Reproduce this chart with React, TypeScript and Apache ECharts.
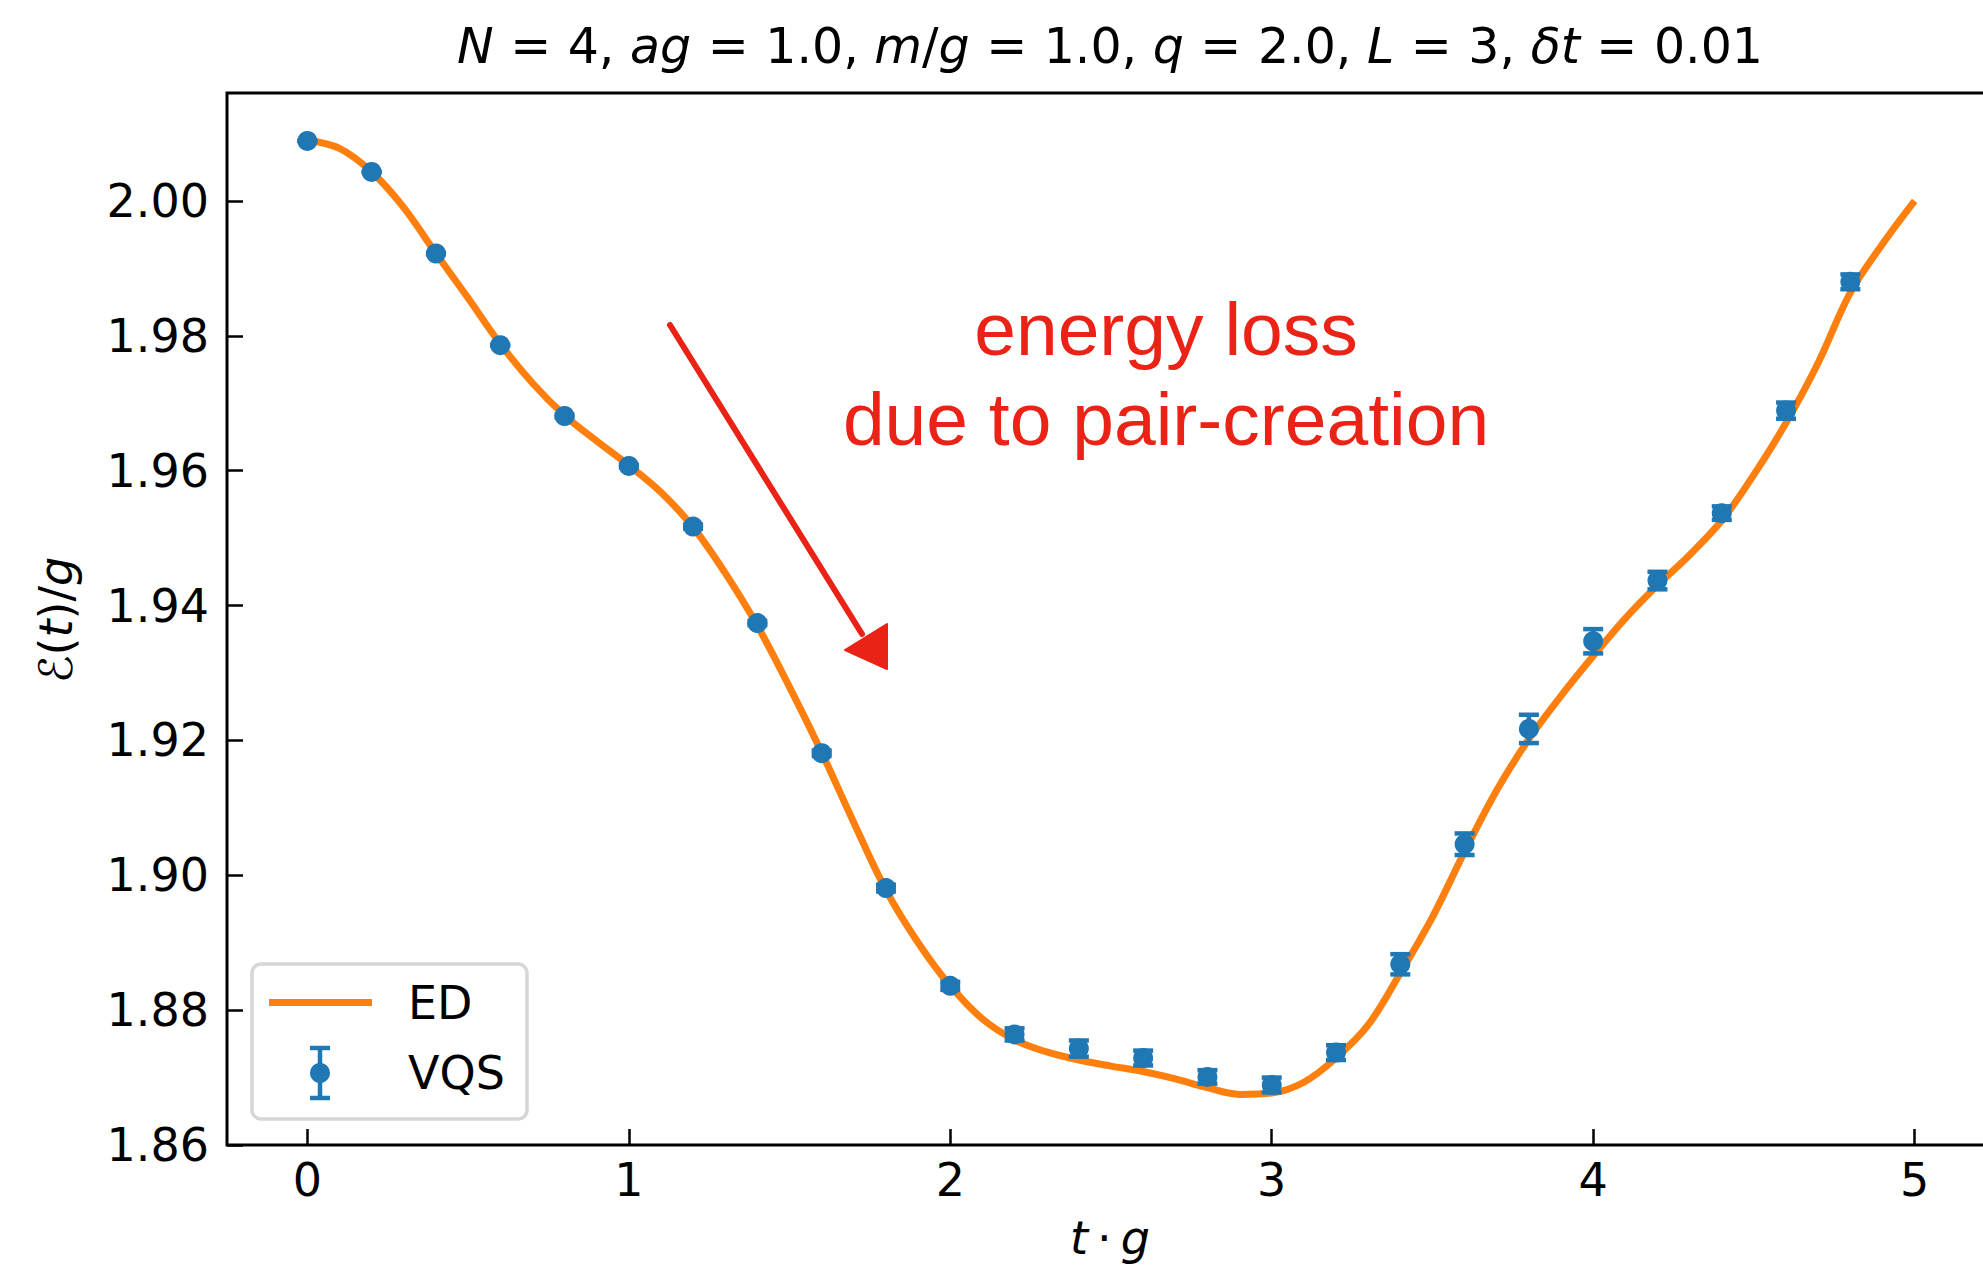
import React, { useEffect, useRef } from "react";
import * as echarts from "echarts";

// ---- Data ----
const edTimes = [
  0.0, 0.1, 0.2, 0.3, 0.4, 0.5, 0.6, 0.7, 0.8, 0.9,
  1.0, 1.1, 1.2, 1.3, 1.4, 1.5, 1.6, 1.7, 1.8, 1.9,
  2.0, 2.1, 2.2, 2.3, 2.4, 2.5, 2.6, 2.7, 2.8, 2.9,
  3.0, 3.1, 3.2, 3.3, 3.4, 3.5, 3.6, 3.7, 3.8, 3.9,
  4.0, 4.1, 4.2, 4.3, 4.4, 4.5, 4.6, 4.7, 4.8, 4.9, 5.0,
];
const edEnergy = [
  2.0090, 2.0078, 2.0043, 1.9990, 1.9922, 1.9856, 1.9788, 1.9730, 1.9682, 1.9644,
  1.9608, 1.9568, 1.9516, 1.9448, 1.9370, 1.9279, 1.9182, 1.9078, 1.8978, 1.8900,
  1.8836, 1.8787, 1.8756, 1.8738, 1.8726, 1.8717, 1.8709, 1.8698, 1.8685, 1.8675,
  1.8677, 1.8693, 1.8729, 1.8778, 1.8855, 1.8938, 1.9035, 1.9126, 1.9202, 1.9266,
  1.9325, 1.9381, 1.9430, 1.9475, 1.9526, 1.9594, 1.9671, 1.9760, 1.9864, 1.9936, 2.0000,
];

const vqsTimes = [
  0.0, 0.2, 0.4, 0.6, 0.8, 1.0, 1.2, 1.4, 1.6, 1.8, 2.0, 2.2, 2.4,
  2.6, 2.8, 3.0, 3.2, 3.4, 3.6, 3.8, 4.0, 4.2, 4.4, 4.6, 4.8,
];
const vqsEnergy = [
  2.0089, 2.0043, 1.9922, 1.9786, 1.9681, 1.9607, 1.9517, 1.9374, 1.9181, 1.8981, 1.8836, 1.8764, 1.8743,
  1.8729, 1.8701, 1.8689, 1.8737, 1.8868, 1.9046, 1.9217, 1.9347, 1.9437, 1.9537, 1.9689, 1.9880,
];
const vqsError = [
  0.0000, 0.0000, 0.0001, 0.0001, 0.0002, 0.0002, 0.0003, 0.0003, 0.0004, 0.0005, 0.0006, 0.0009, 0.0012,
  0.0011, 0.0010, 0.0011, 0.0011, 0.0015, 0.0016, 0.0021, 0.0018, 0.0013, 0.0010, 0.0012, 0.0011,
];

const xTicks = [0, 1, 2, 3, 4, 5];
const yTicks = [1.86, 1.88, 1.9, 1.92, 1.94, 1.96, 1.98, 2.0];

const seriesNames = ["ED", "VQS"];
const titleText =
  "{i|N}{w| }{n|=}{w| }{n|4, }{i|ag}{w| }{n|=}{w| }{n|1.0, }{i|m}{n|/}{i|g}{w| }{n|=}{w| }{n|1.0, }" +
  "{i|q}{w| }{n|=}{w| }{n|2.0, }{i|L}{w| }{n|=}{w| }{n|3, }{i|δt}{w| }{n|=}{w| }{n|0.01}";
const yLabelText = "{i|ℰ}{n|(}{i|t}{n|)/}{i|g}";
const xLabelText = "{i|t}{s| }{n|·}{s| }{i|g}";
const noteLines = ["energy loss", "due to pair-creation"];

const BLUE = "#1f77b4";
const ORANGE = "#ff7f0e";
const RED = "#ea2316";
const FONT = "DejaVu Sans";
const FS = 46;
const TFS = 49;

export default function App() {
  const ref = useRef<HTMLDivElement>(null);

  useEffect(() => {
    if (!ref.current) return;
    document.documentElement.style.overflow = "hidden";
    document.body.style.overflow = "hidden";
    const chart = echarts.init(ref.current, null, { renderer: "svg" });

    const richLabel = {
      i: { fontStyle: "italic", fontFamily: FONT, fontSize: FS, color: "#000" },
      n: { fontFamily: FONT, fontSize: FS, color: "#000" },
      s: { fontFamily: FONT, fontSize: FS, width: 9 },
    };
    const richTitle = {
      i: { fontStyle: "italic", fontFamily: FONT, fontSize: TFS, color: "#000" },
      n: { fontFamily: FONT, fontSize: TFS, color: "#000" },
      w: { fontFamily: FONT, fontSize: TFS, width: 16.5 },
    };

    const option: any = {
      animation: false,
      backgroundColor: "#fff",
      grid: {
        left: 227,
        top: 93,
        width: 1768,
        height: 1052,
        show: true,
        borderColor: "#000",
        borderWidth: 3,
        backgroundColor: "transparent",
      },
      xAxis: {
        type: "value",
        min: -0.25,
        max: 5.25,
        axisLine: { show: false, onZero: false },
        splitLine: { show: false },
        axisTick: {
          show: true,
          inside: true,
          length: 16,
          customValues: xTicks,
          lineStyle: { color: "#000", width: 2.5 },
        },
        axisLabel: {
          customValues: xTicks,
          fontFamily: FONT,
          fontSize: FS,
          color: "#000",
          margin: 12,
          formatter: (v: number) => String(Math.round(v)),
        },
      },
      yAxis: {
        type: "value",
        min: 1.86,
        max: 2.016,
        axisLine: { show: false, onZero: false },
        splitLine: { show: false },
        axisTick: {
          show: true,
          inside: true,
          length: 16,
          customValues: yTicks,
          lineStyle: { color: "#000", width: 2.5 },
        },
        axisLabel: {
          customValues: yTicks,
          fontFamily: FONT,
          fontSize: FS,
          color: "#000",
          margin: 18,
          formatter: (v: number) => v.toFixed(2),
        },
      },
      series: [
        {
          name: seriesNames[0],
          type: "line",
          data: edTimes.map((t, i) => [t, edEnergy[i]]),
          showSymbol: false,
          smooth: 0.35,
          lineStyle: { color: ORANGE, width: 7 },
          z: 2,
        },
        {
          name: seriesNames[1] + " error",
          type: "custom",
          data: vqsTimes.map((t, i) => [t, vqsEnergy[i], vqsError[i]]),
          renderItem: (params: any, api: any) => {
            const x = api.value(0);
            const y = api.value(1);
            const e = api.value(2);
            const top = api.coord([x, y + e]);
            const bot = api.coord([x, y - e]);
            const hw = 10;
            const st = { stroke: BLUE, lineWidth: 4.5 };
            return {
              type: "group",
              children: [
                { type: "line", shape: { x1: top[0], y1: top[1], x2: bot[0], y2: bot[1] }, style: st },
                { type: "line", shape: { x1: top[0] - hw, y1: top[1], x2: top[0] + hw, y2: top[1] }, style: st },
                { type: "line", shape: { x1: bot[0] - hw, y1: bot[1], x2: bot[0] + hw, y2: bot[1] }, style: st },
              ],
            };
          },
          z: 3,
        },
        {
          name: seriesNames[1],
          type: "scatter",
          data: vqsTimes.map((t, i) => [t, vqsEnergy[i]]),
          symbol: "circle",
          symbolSize: 20,
          itemStyle: { color: BLUE, opacity: 1 },
          z: 4,
        },
      ],
      graphic: [
        // title
        {
          type: "text",
          x: 1110,
          y: 46,
          style: { text: titleText, rich: richTitle, align: "center", verticalAlign: "middle" },
        },
        // y-axis label
        {
          type: "text",
          x: 56,
          y: 620,
          rotation: Math.PI / 2,
          style: { text: yLabelText, rich: richLabel, align: "center", verticalAlign: "middle" },
        },
        // x-axis label
        {
          type: "text",
          x: 1110,
          y: 1238,
          style: { text: xLabelText, rich: richLabel, align: "center", verticalAlign: "middle" },
        },
        // legend
        {
          type: "rect",
          shape: { x: 252, y: 964, width: 275, height: 155, r: 9 },
          style: { fill: "rgba(255,255,255,0.8)", stroke: "#d6d6d6", lineWidth: 3.5 },
          z: 10,
        },
        {
          type: "line",
          shape: { x1: 269, y1: 1002.5, x2: 372, y2: 1002.5 },
          style: { stroke: ORANGE, lineWidth: 7 },
          z: 11,
        },
        {
          type: "text",
          x: 408,
          y: 1002.5,
          style: { text: seriesNames[0], fontFamily: FONT, fontSize: FS, fill: "#000", verticalAlign: "middle" },
          z: 11,
        },
        {
          type: "line",
          shape: { x1: 320, y1: 1048, x2: 320, y2: 1098 },
          style: { stroke: BLUE, lineWidth: 4.5 },
          z: 11,
        },
        {
          type: "line",
          shape: { x1: 310, y1: 1048, x2: 330, y2: 1048 },
          style: { stroke: BLUE, lineWidth: 4.5 },
          z: 11,
        },
        {
          type: "line",
          shape: { x1: 310, y1: 1098, x2: 330, y2: 1098 },
          style: { stroke: BLUE, lineWidth: 4.5 },
          z: 11,
        },
        {
          type: "circle",
          shape: { cx: 320, cy: 1073, r: 10 },
          style: { fill: BLUE },
          z: 11,
        },
        {
          type: "text",
          x: 408,
          y: 1072.5,
          style: { text: seriesNames[1], fontFamily: FONT, fontSize: FS, fill: "#000", verticalAlign: "middle" },
          z: 11,
        },
        // annotation
        {
          type: "text",
          x: 1166,
          y: 329,
          style: { text: noteLines[0], fontFamily: "Liberation Sans", fontSize: 75, fill: RED, align: "center", verticalAlign: "middle" },
          z: 12,
        },
        {
          type: "text",
          x: 1166,
          y: 419,
          style: { text: noteLines[1], fontFamily: "Liberation Sans", fontSize: 75, fill: RED, align: "center", verticalAlign: "middle" },
          z: 12,
        },
        {
          type: "line",
          shape: { x1: 670, y1: 325, x2: 862, y2: 634 },
          style: { stroke: RED, lineWidth: 6, lineCap: "round" },
          z: 12,
        },
        {
          type: "polygon",
          shape: { points: [[845, 650], [887, 624], [887, 669]] },
          style: { fill: RED, stroke: RED, lineWidth: 2, lineJoin: "round" },
          z: 12,
        },
      ],
    };

    chart.setOption(option);
    return () => chart.dispose();
  }, []);

  return (
    <div
      ref={ref}
      style={{ position: "fixed", left: 0, top: 0, width: 2000, height: 1268, background: "#fff" }}
    />
  );
}
